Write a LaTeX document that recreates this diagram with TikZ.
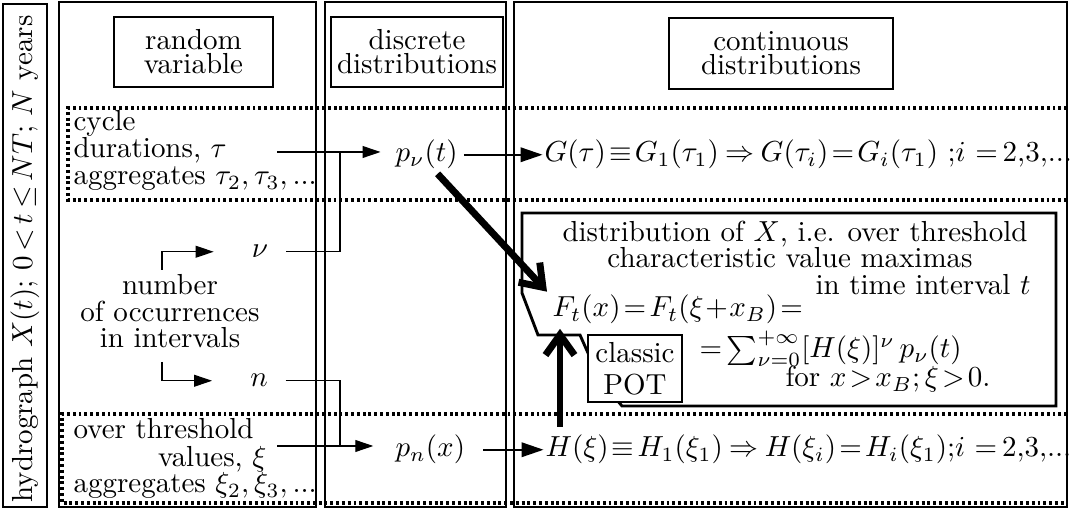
\documentclass[tikz,border=0pt]{standalone}
\usetikzlibrary{arrows.meta,calc}
\begin{document}
\begin{tikzpicture}[x=0.345pt,y=-0.345pt,
  every node/.style={inner sep=0pt},
  frame/.style={draw,line width=0.45pt},
  hdr/.style={draw,line width=0.45pt,align=center,font=\fontsize{10}{8.3}\selectfont},
  band/.style={line width=1.1pt,dash pattern=on 1pt off 1pt},
  conn/.style={line width=0.4pt},
  tip/.style={-{Triangle[length=6.2pt,width=4.1pt]}},
  midarrow/.style={line width=0.7pt,-{Triangle[length=7.6pt,width=5pt]}},
  bigarrow/.style={line width=2.4pt,-{Straight Barb[length=7pt,width=10pt]}},
  callout/.style={draw,line width=1pt,line join=miter},
  potbox/.style={draw,fill=white,line width=0.7pt,align=center,font=\fontsize{10}{11}\selectfont},
  txt/.style={anchor=base west},
]
\useasboundingbox (0,0) rectangle (1072,510);

% frames
\draw[frame] (3,4) rectangle (47,507);
\node[rotate=90] (hyd) at (25,259) {\thickmuskip=3mu hydrograph $X(t)$; $0<t\leq NT$; $N$~years};
\draw[frame] (59,2) rectangle (316,507);
\draw[frame] (325,2) rectangle (506,507);
\draw[frame] (514,2) rectangle (1067,507);

% headers
\node[hdr,minimum width=54.9pt,minimum height=24.2pt] (rv) at (193.5,52) {random\\variable};
\node[hdr,minimum width=59.3pt,minimum height=24.2pt] (dd) at (417,52) {discrete\\distributions};
\node[hdr,minimum width=77.3pt,minimum height=24.5pt] (cd) at (781,53.5) {continuous\\distributions};

% bands
\draw[band] (1067,108) -- (68,108) -- (68,200) -- (1067,200);
\draw[band] (1067,414) -- (62,414) -- (62,503) -- (1067,503);

% cycle band
\node[txt] (cyc1) at (73,131) {cycle};
\node[txt] (cyc2) at (73,158) {durations, $\tau$};
\node[txt] (cyc3) at (73,185) {aggregates $\tau_2,\tau_3,...$};
\coordinate (cycO) at (277,152);
\node[txt] (pnu) at (395,162) {$p_\nu(t)$};
\node[txt] (G) at (544,162) {\thickmuskip=2mu $G(\tau)\equiv G_1(\tau_1)\;\Rightarrow\;G(\tau_i)=G_i(\tau_1)\ {;}i\ {=}\,2{,}3{,}...$};
\draw[conn,tip] (cycO) -- ([xshift=-5pt]cycO -| pnu.west);
\draw[midarrow] ([xshift=2pt]pnu.east) -- ([xshift=-0.5pt]pnu.east -| G.west);

% number of occurrences
\node[anchor=base] (nu) at (260,258) {$\nu$};
\node[anchor=base] (n) at (259,387) {$n$};
\node[anchor=base] (num1) at (170,295) {number};
\node[anchor=base] (num2) at (170,322) {of occurrences};
\node[anchor=base] (num3) at (170,348) {in intervals};
\coordinate (a1) at (162,270);
\coordinate (a2) at (162,362);
\draw[conn,tip] (a1) |- ([xshift=-13pt]nu.west);
\draw[conn,tip] (a2) |- ([xshift=-13pt]n.west);
\coordinate (j1) at (340,152);
\coordinate (j2) at (340,446);
\draw[conn] ([xshift=6pt]nu.east) -| (j1);
\draw[conn] ([xshift=6pt]n.east) -| (j2);

% over threshold band
\node[txt] (ov1) at (73,439) {over threshold};
\node[anchor=base east] (ov2) at (267,467) {values, $\xi$};
\node[txt] (ov3) at (73,493) {aggregates $\xi_2,\xi_3,...$};
\coordinate (ovO) at (277,446);
\node[txt] (pn) at (395,457) {$p_n(x)$};
\node[txt] (H) at (545,457) {\thickmuskip=2mu $H(\xi)\equiv H_1(\xi_1)\;\Rightarrow\;H(\xi_i)=H_i(\xi_1){;}i\ {=}\,2{,}3{,}...$};
\draw[conn,tip] (ovO) -- ([xshift=-7.5pt]ovO -| pn.west);
\draw[midarrow] ([xshift=6pt]pn.east) -- ([xshift=-0.5pt]pn.east -| H.west);

% distribution box
\draw[callout] (522,213) -- (1056,213) -- (1056,406) -- (622,406) -- (600,380) -- (580,335) -- (538,335) -- (522,293) -- cycle;
\node[anchor=base] (d1) at (795,242) {distribution of $X$, i.e. over threshold};
\node[anchor=base] (d2) at (790,268) {characteristic value maximas};
\node[txt] (d3) at (815,295) {in time interval $t$};
\node[txt] (F) at (552,317) {\thickmuskip=2mu\medmuskip=1mu $F_t(x)=F_t(\xi+x_B)=$};
\node[txt] (S) at (699,358) {${=}\sum_{\nu=0}^{+\infty}[H(\xi)]^{\nu}\,p_\nu(t)$};
\node[txt] (fr) at (785,387) {\thickmuskip=2mu for $x>x_B;\xi>0.$};
\node[potbox,minimum width=32.4pt,minimum height=23.1pt] (pot) at (635,368.5) {classic\\POT};

% thick arrows
\draw[bigarrow] ($(pnu.south)+(11,4)$) -- ($(F.north west)+(-5,-3)$);
\draw[bigarrow] ($(H.north west)+(15,-8)$) -- ($(F.south west)+(8,4)$);
\end{tikzpicture}
\end{document}
